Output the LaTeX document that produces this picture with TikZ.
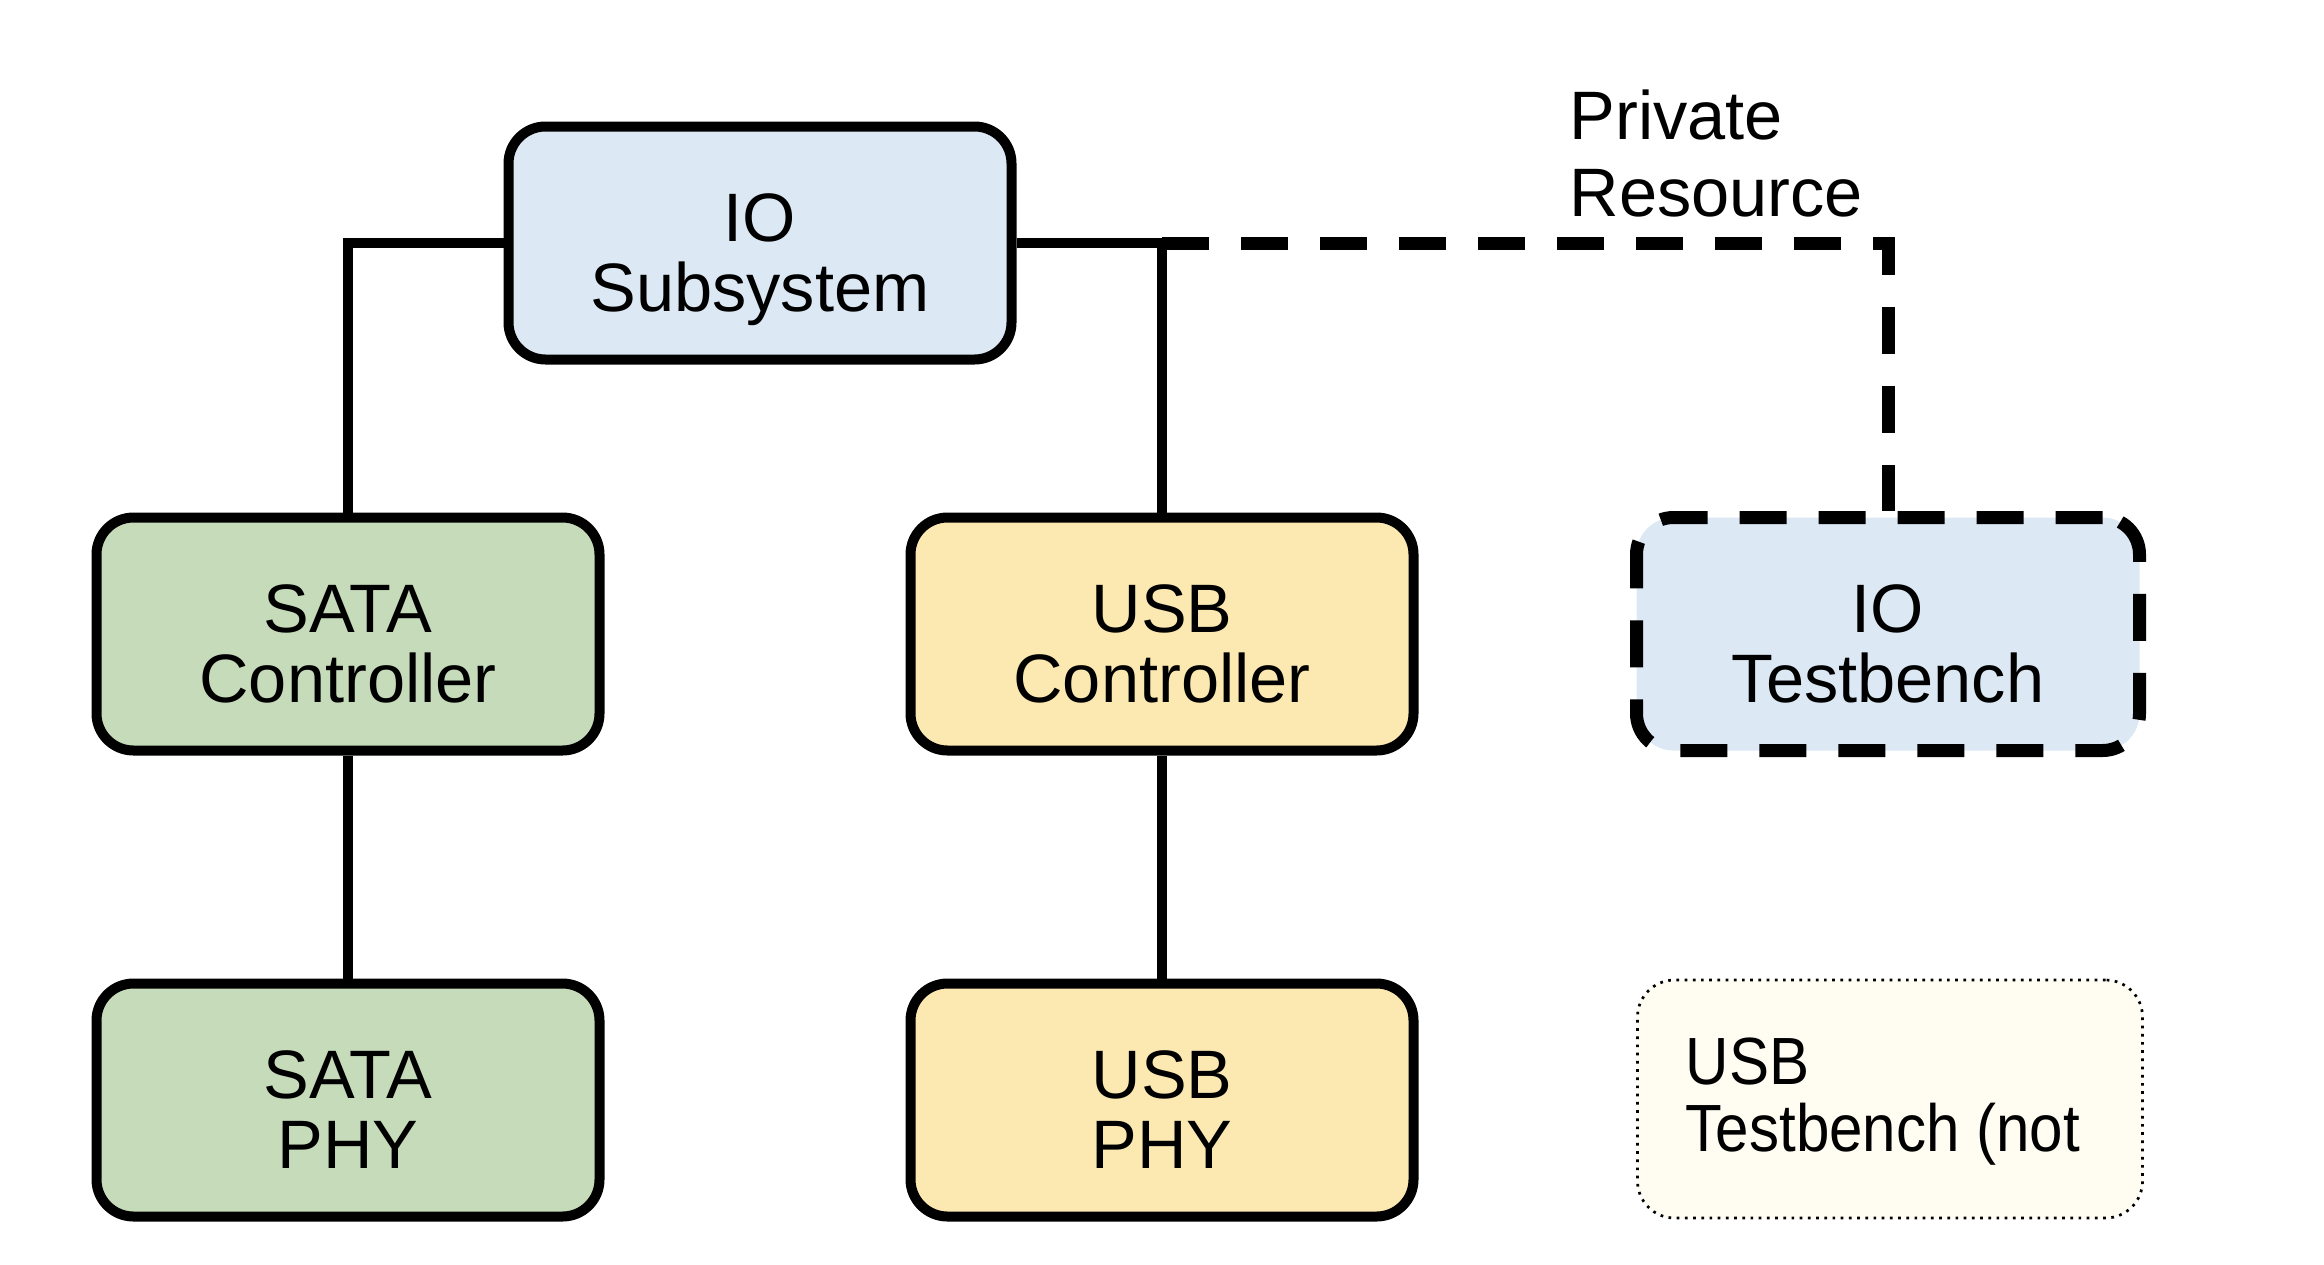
\documentclass[tikz,border=0pt]{standalone}
\usepackage{fontspec}
\setmainfont{Liberation Sans}
\newfontfamily\narrowsans[FakeStretch=0.9]{Liberation Sans}
\usetikzlibrary{positioning}

\definecolor{iofill}{HTML}{DCE8F4}
\definecolor{satafill}{HTML}{C6DBBA}
\definecolor{usbfill}{HTML}{FCE9B2}
\definecolor{notefill}{HTML}{FFFDF2}

\newcommand{\blocktext}{\fontsize{19.5}{20}\selectfont}
\newcommand{\notetext}{\narrowsans\fontsize{19}{19}\selectfont}

\begin{document}
\begin{tikzpicture}[
    blockbox/.style={rectangle, rounded corners=3.7mm, draw, line width=1mm,
                     minimum width=5.03cm, minimum height=2.33cm,
                     text height=39pt, text depth=0pt, align=center, font=\blocktext},
    privline/.style={line width=1.3mm, dash pattern=on 4.7mm off 3.2mm},
    wire/.style={line width=1mm}
  ]
  \useasboundingbox (0,0) rectangle (23.24,-12.64);

  % top level
  \node (IO)   [blockbox, fill=iofill] at (7.60,-2.43) {IO\\Subsystem};

  % controllers
  \node (SATAC) [blockbox, fill=satafill] at (3.48,-6.34)  {SATA\\Controller};
  \node (USBC)  [blockbox, fill=usbfill]  at (11.62,-6.34) {USB\\Controller};
  \node (IOTB)  [blockbox, fill=iofill, privline] at (18.88,-6.34) {IO\\Testbench};

  % phys
  \node (SATAP) [blockbox, fill=satafill] at (3.48,-11.00)  {SATA\\PHY};
  \node (USBP)  [blockbox, fill=usbfill]  at (11.62,-11.00) {USB\\PHY};

  % testbench that is not there
  \node (USBTB) [rectangle, rounded corners=3.7mm, draw, fill=notefill,
                 line width=0.27mm, dash pattern=on 0.27mm off 0.55mm,
                 minimum width=5.05cm, minimum height=2.38cm] at (18.90,-10.99) {};
  \node (USBTBL) [anchor=north west, inner sep=0, align=left, font=\notetext]
        at (16.85,-10.37) {USB\\Testbench (not};

  \node (PR) [anchor=north west, inner sep=0, align=left,
              font=\fontsize{19.5}{22}\selectfont] at (15.69,-0.89) {Private\\Resource};

  % connections
  \coordinate (J) at (USBC.north |- IO.east);

  \draw [wire] (IO.west) -| (SATAC.north);
  \draw [wire] (IO.east) -| (USBC.north);
  \draw [wire] (SATAC) -- (SATAP);
  \draw [wire] (USBC) -- (USBP);
  \draw [privline] (J) -| (IOTB.north);
\end{tikzpicture}
\end{document}
